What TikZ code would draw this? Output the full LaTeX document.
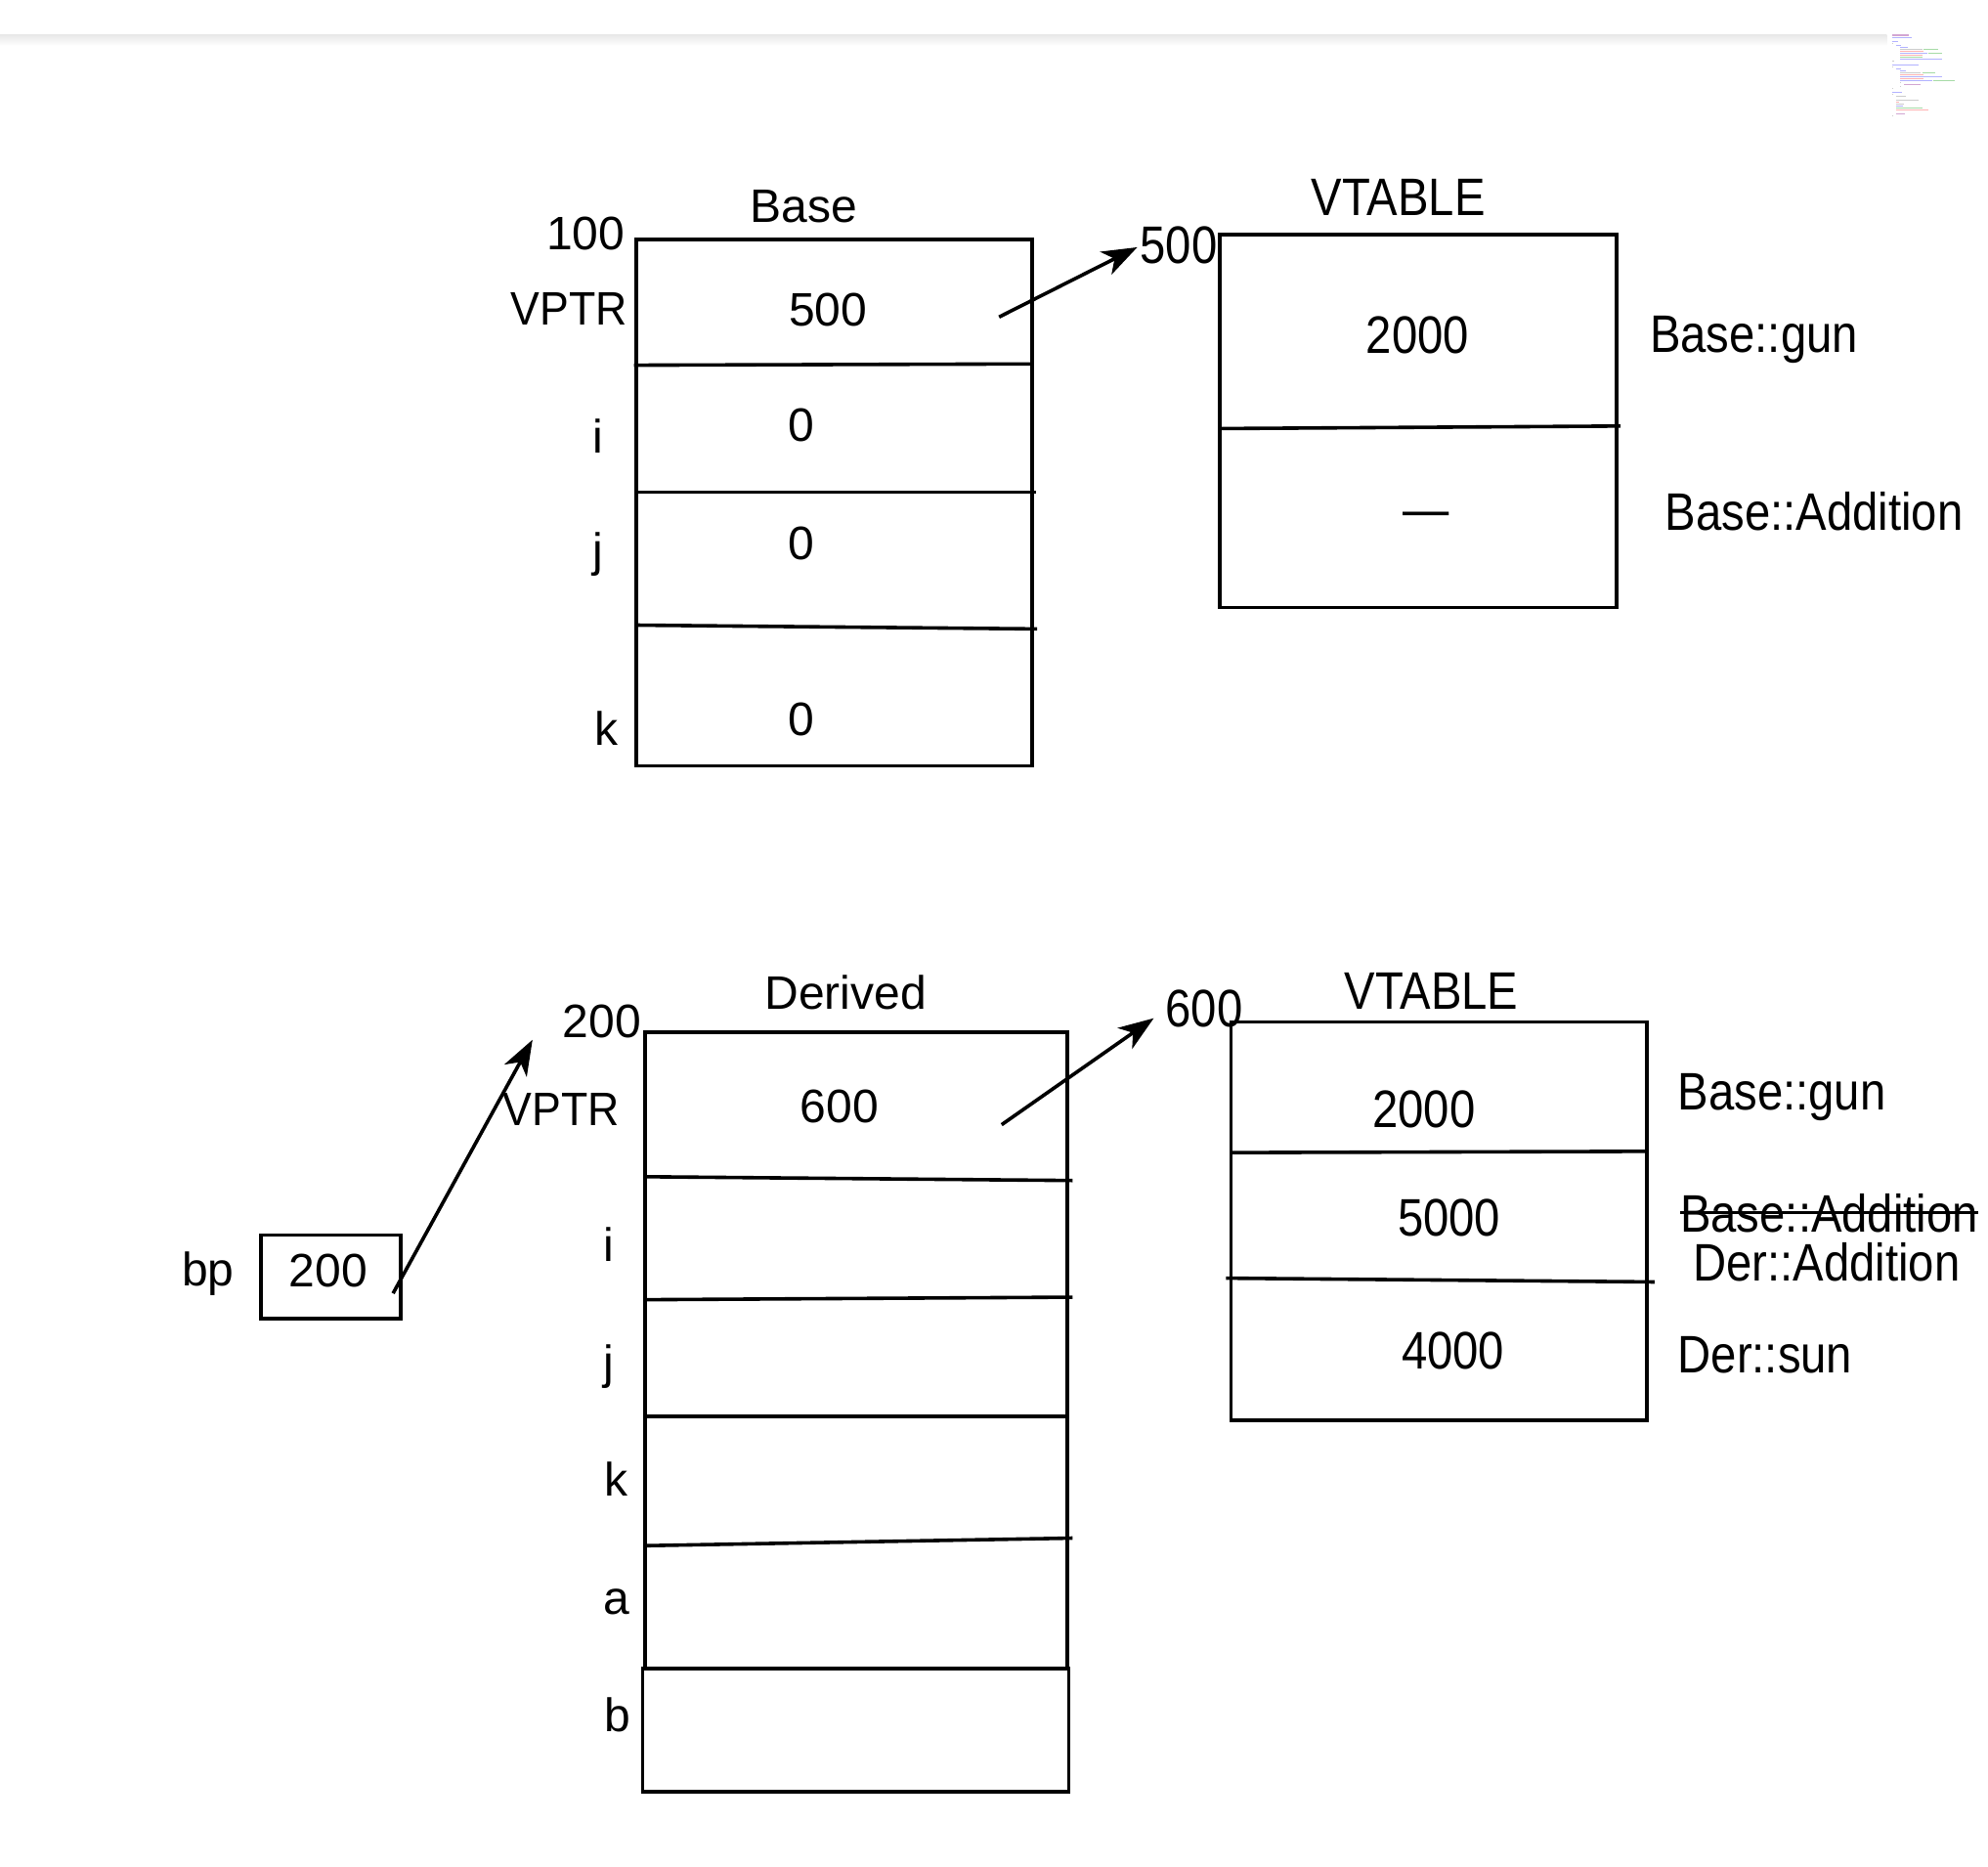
\documentclass[tikz,border=0pt]{standalone}
\usepackage{fontspec}
\setmainfont{Liberation Sans}
\newfontfamily\regf{Liberation Sans}
\newfontfamily\cndf[FakeStretch=0.875]{Liberation Sans}
\usetikzlibrary{arrows.meta,fit}
\tikzset{
  lbl/.style={inner sep=0pt, font=\regf\fontsize{24}{28}\selectfont},
  clbl/.style={inner sep=0pt, font=\cndf\fontsize{27}{32}\selectfont},
  box/.style={draw, line width=1.8pt, inner sep=0pt},
  divline/.style={line width=1.8pt},
  ptr/.style={line width=1.8pt, -{Stealth[length=18pt,width=13pt,inset=5pt]}},
  codebar/.style={line width=0.8pt},
}
\begin{document}
\begin{tikzpicture}[x=0.6486pt,y=-0.6486pt]
\useasboundingbox (0,0) rectangle (1568,1472);
\fill[white] (0,0) rectangle (1568,1472);
\shade[top color=black!9, bottom color=white] (0,27.5) rectangle (1488,36);

% code thumbnail (unreadable miniature)
\begin{scope}[shift={(1464.7,0)}, xscale=0.257, yscale=0.257]
  \foreach \ya/\xa/\xb/\c in {108/108/160/violet!35, 116/108/168/blue!30,
     128/108/125/blue!30, 134/108/112/gray!40, 140/120/135/blue!30,
     146/132/155/blue!30, 152/132/200/gray!40, 152/205/248/green!60!black!35,
     158/132/205/red!30, 164/132/215/blue!30, 164/220/262/green!60!black!35,
     170/132/200/red!30, 176/132/200/green!60!black!35, 182/132/262/blue!30,
     188/108/115/gray!40, 200/108/188/blue!30, 206/108/112/gray!40,
     212/120/135/blue!30, 218/132/150/blue!30, 224/132/195/gray!40,
     224/200/240/green!60!black!35, 230/132/205/red!30, 236/132/262/blue!30,
     242/132/205/red!30, 248/132/230/blue!30, 248/235/300/green!60!black!35,
     254/132/136/gray!40, 260/145/195/violet!35, 266/132/136/gray!40,
     272/108/112/gray!40, 284/108/138/blue!30, 290/108/112/gray!40,
     296/120/150/gray!40, 308/120/190/gray!40, 314/120/130/red!30,
     320/120/145/gray!40, 326/120/140/blue!30, 332/120/200/green!60!black!35,
     338/120/220/red!30, 350/120/148/violet!35, 356/108/112/gray!40}
    \draw[codebar, \c] (\xa,\ya) -- (\xb,\ya);
\end{scope}

% ================= top: Base object =================
\coordinate (b1) at (502,189); \coordinate (b2) at (814,604);
\node[box, fit=(b1)(b2)] (basebox) {};
\coordinate (bd1a) at (500,288); \coordinate (bd1b) at (814,287);
\coordinate (bd2a) at (502,388); \coordinate (bd2b) at (817,388);
\coordinate (bd3a) at (503,493); \coordinate (bd3b) at (818,496);
\draw[divline] (bd1a) -- (bd1b);
\draw[divline] (bd2a) -- (bd2b);
\draw[divline] (bd3a) -- (bd3b);

\node[lbl, anchor=base] (basettl) at (634,175) {Base};
\node[lbl, anchor=base east] (addr100) at (493,197) {100};
\node[lbl, anchor=base east, xscale=0.93] (vptr1) at (495,256) {VPTR};
\node[lbl, anchor=base] (v500) at (653,257) {500};
\node[lbl, anchor=base] (li1) at (472,357) {i};
\node[lbl, anchor=base] (vi1) at (632,348) {0};
\node[lbl, anchor=base] (lj1) at (472,447) {j};
\node[lbl, anchor=base] (vj1) at (632,441) {0};
\node[lbl, anchor=base] (lk1) at (478,588) {k};
\node[lbl, anchor=base] (vk1) at (632,580) {0};

% ================= top: VTABLE =================
\coordinate (t1) at (962,185); \coordinate (t2) at (1275,479);
\node[box, fit=(t1)(t2)] (vtab1) {};
\coordinate (td1a) at (962,338); \coordinate (td1b) at (1278,336);
\draw[divline] (td1a) -- (td1b);
\node[clbl, anchor=base] (vttl1) at (1103,170) {VTABLE};
\node[clbl, anchor=base west] (addr500) at (899,208) {500};
\node[clbl, anchor=base] (e2000a) at (1118,279) {2000};
\node[clbl, anchor=base] (edash) at (1125,416) {—};
\node[clbl, anchor=base west] (fgun1) at (1301,278) {Base::gun};
\node[clbl, anchor=base west] (fadd1) at (1313,418) {Base::Addition};

\coordinate (p1s) at (788,250); \coordinate (p1e) at (897,195);
\draw[ptr] (p1s) -- (p1e);

% ================= bottom: Derived object =================
\coordinate (d1) at (509,814); \coordinate (d2) at (842,1316);
\node[box, fit=(d1)(d2)] (derbox) {};
\coordinate (bb1) at (507,1316); \coordinate (bb2) at (843,1413);
\node[box, fit=(bb1)(bb2)] (bbox) {};
\coordinate (dd1a) at (509,928); \coordinate (dd1b) at (846,931);
\coordinate (dd2a) at (509,1025); \coordinate (dd2b) at (846,1023);
\coordinate (dd3a) at (509,1117); \coordinate (dd3b) at (842,1117);
\coordinate (dd4a) at (509,1219); \coordinate (dd4b) at (846,1213);
\draw[divline] (dd1a) -- (dd1b);
\draw[divline] (dd2a) -- (dd2b);
\draw[divline] (dd3a) -- (dd3b);
\draw[divline] (dd4a) -- (dd4b);

\node[lbl, anchor=base] (derttl) at (667,796) {Derived};
\node[lbl, anchor=base east] (addr200) at (506,818) {200};
\node[lbl, anchor=base east, xscale=0.93] (vptr2) at (489,888) {VPTR};
\node[lbl, anchor=base] (v600) at (662,885) {600};
\node[lbl, anchor=base] (li2) at (480,995) {i};
\node[lbl, anchor=base] (lj2) at (480,1087) {j};
\node[lbl, anchor=base] (lk2) at (486,1180) {k};
\node[lbl, anchor=base] (la2) at (486,1273) {a};
\node[lbl, anchor=base] (lb2) at (487,1366) {b};

% ================= bottom: VTABLE =================
\coordinate (u1) at (971,806); \coordinate (u2) at (1299,1120);
\node[box, fit=(u1)(u2)] (vtab2) {};
\coordinate (ud1a) at (971,909); \coordinate (ud1b) at (1299,908);
\coordinate (ud2a) at (967,1008); \coordinate (ud2b) at (1305,1011);
\draw[divline] (ud1a) -- (ud1b);
\draw[divline] (ud2a) -- (ud2b);
\node[clbl, anchor=base] (vttl2) at (1129,796) {VTABLE};
\node[clbl, anchor=base west] (addr600) at (919,810) {600};
\node[clbl, anchor=base] (e2000b) at (1123,889) {2000};
\node[clbl, anchor=base] (e5000) at (1143,975) {5000};
\node[clbl, anchor=base] (e4000) at (1146,1080) {4000};
\node[clbl, anchor=base west] (fgun2) at (1323,875) {Base::gun};
\node[clbl, anchor=base west] (fadd2) at (1325,972) {Base::Addition};
\draw[line width=1.6pt] ([yshift=0.5pt]fadd2.west) -- ([yshift=0.5pt]fadd2.east);
\node[clbl, anchor=base west] (fdadd) at (1335,1010) {Der::Addition};
\node[clbl, anchor=base west] (fsun) at (1323,1083) {Der::sun};

\coordinate (p2s) at (790,887); \coordinate (p2e) at (910,803);
\draw[ptr] (p2s) -- (p2e);

% ================= bp pointer =================
\coordinate (bp1) at (206,974); \coordinate (bp2) at (316,1040);
\node[box, fit=(bp1)(bp2)] (bpbox) {};
\node[lbl, anchor=base] (bplbl) at (164,1014) {bp};
\node[lbl, anchor=base] (bpval) at (259,1015) {200};
\coordinate (p3s) at (310,1020); \coordinate (p3e) at (420,820);
\draw[ptr] (p3s) -- (p3e);
\end{tikzpicture}
\end{document}
